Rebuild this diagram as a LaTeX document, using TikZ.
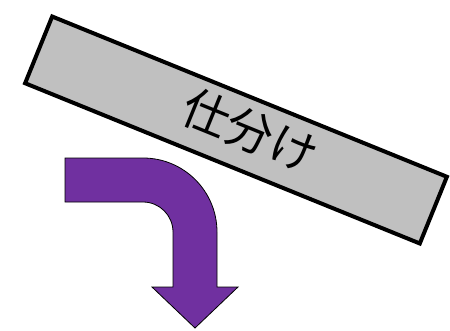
\documentclass[tikz,border=0pt]{standalone}
\usepackage{fontspec}
\newfontfamily\cjk{Noto Sans CJK JP}
\definecolor{barfill}{HTML}{C0C0C0}
\definecolor{arrowfill}{HTML}{7030A0}
\begin{document}
\begin{tikzpicture}[x=1pt, y=1pt,
  sortbar/.style={draw=black, line width=4pt, fill=barfill, rotate=-22.1,
    minimum width=426pt, minimum height=72pt, inner sep=0pt},
  sortlabel/.style={rotate=-22.1, inner sep=0pt, font=\cjk\fontsize{47}{47}\selectfont},
  turnarrow/.style={draw=black, line width=0.8pt, fill=arrowfill}]
  \useasboundingbox (0,0) rectangle (450,330);

  % tilted bar with its label
  \node[sortbar] (bar) at (236,200) {};
  \node[sortlabel] (barlabel) at (250,199) {仕分け};

  % bent arrow: right, then down
  \draw[turnarrow] (65,172) -- (143,172) arc[start angle=90, end angle=0, radius=74]
    -- (217,43) -- (238,43) -- (195,2) -- (152,43) -- (173,43) -- (173,98)
    arc[start angle=0, end angle=90, radius=30] -- (65,128) -- cycle;
\end{tikzpicture}
\end{document}
